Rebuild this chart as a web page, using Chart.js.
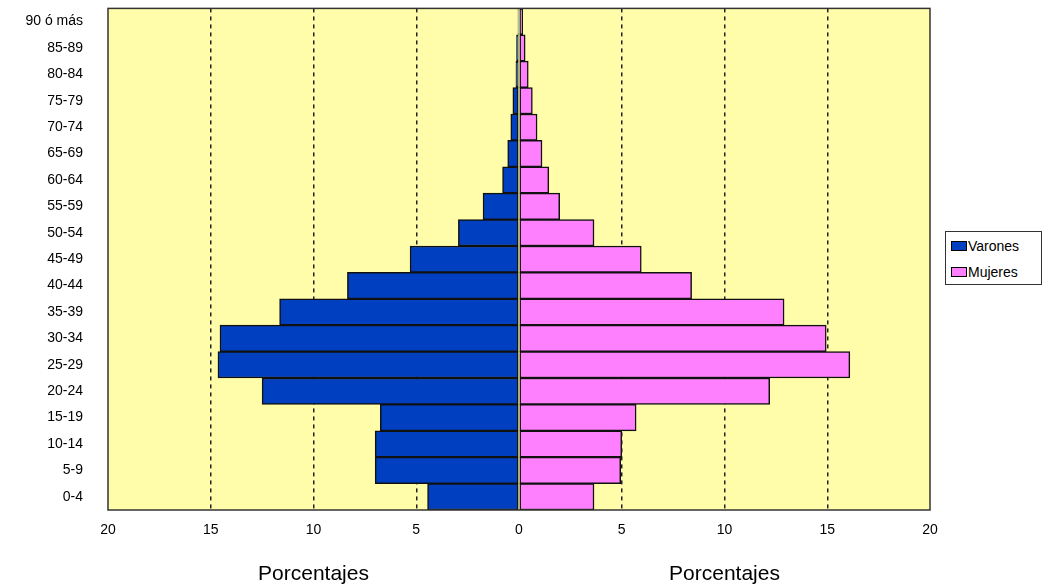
<!DOCTYPE html>
<html>
<head>
<meta charset="utf-8">
<script src="https://cdn.jsdelivr.net/npm/chart.js@4.4.0/dist/chart.umd.min.js"></script>
<style>
  html, body { margin: 0; padding: 0; background: #fff; }
  #wrap { position: relative; width: 1045px; height: 588px; }
  #legend {
    position: absolute; left: 945px; top: 231px; width: 97px; height: 54px;
    border: 1px solid #333; background: #fff; box-sizing: border-box;
    font-family: "Liberation Sans", Arial, sans-serif; font-size: 14px; color: #000;
  }
  #legend div { position: absolute; left: 5px; height: 16px; line-height: 16px; }
  #legend span.sw {
    display: inline-block; width: 14px; height: 8px; border: 1px solid #000;
    vertical-align: middle; margin-right: 1px; position: relative; top: -1px;
  }
</style>
</head>
<body>
<div id="wrap">
  <canvas id="pyramid" width="1045" height="588"></canvas>
  <div id="legend">
    <div style="top:6px"><span class="sw" style="background:#0040C0"></span>Varones</div>
    <div style="top:32px"><span class="sw" style="background:#FF80FF"></span>Mujeres</div>
  </div>
</div>
<script>
// age groups, bottom to top
const ageGroups = ['0-4', '5-9', '10-14', '15-19', '20-24', '25-29', '30-34', '35-39', '40-44',
  '45-49', '50-54', '55-59', '60-64', '65-69', '70-74', '75-79', '80-84', '85-89', '90 ó más'];
// percentages
const varones = [4.45, 7.0, 7.0, 6.75, 12.5, 14.65, 14.55, 11.65, 8.35,
  5.3, 2.95, 1.75, 0.8, 0.55, 0.4, 0.3, 0.15, 0.12, 0.05];
const mujeres = [3.65, 4.95, 5.0, 5.7, 12.2, 16.1, 14.95, 12.9, 8.4,
  5.95, 3.65, 1.98, 1.45, 1.12, 0.88, 0.65, 0.45, 0.3, 0.18];
const xTicks = [-20, -15, -10, -5, 0, 5, 10, 15, 20];

const font = "'Liberation Sans', Arial, sans-serif";

const plotBg = {
  id: 'plotBg',
  beforeDraw(chart) {
    const { ctx, chartArea: a } = chart;
    ctx.save();
    ctx.fillStyle = '#FFFDAA';
    ctx.fillRect(a.left, a.top, a.right - a.left, a.bottom - a.top);
    ctx.restore();
  },
  afterDraw(chart) {
    const { ctx, chartArea: a, scales } = chart;
    ctx.save();
    ctx.strokeStyle = '#333';
    ctx.lineWidth = 1.5;
    ctx.strokeRect(a.left, a.top, a.right - a.left, a.bottom - a.top);
    // axis titles under each half
    ctx.fillStyle = '#000';
    ctx.font = '21px ' + font;
    ctx.textAlign = 'center';
    ctx.textBaseline = 'middle';
    ctx.fillText('Porcentajes', scales.x.getPixelForValue(-10), 574);
    ctx.fillText('Porcentajes', scales.x.getPixelForValue(10), 574);
    ctx.restore();
  }
};

new Chart(document.getElementById('pyramid').getContext('2d'), {
  type: 'bar',
  data: {
    labels: ageGroups,
    datasets: [{
      label: 'Varones',
      data: varones.map(v => -v),
      backgroundColor: '#0040C0',
      borderColor: '#111',
      borderWidth: 1.5,
      borderSkipped: false,
      barPercentage: 1,
      categoryPercentage: 1
    }, {
      label: 'Mujeres',
      data: mujeres,
      backgroundColor: '#FF80FF',
      borderColor: '#111',
      borderWidth: 1.5,
      borderSkipped: false,
      barPercentage: 1,
      categoryPercentage: 1
    }]
  },
  options: {
    indexAxis: 'y',
    responsive: false,
    animation: false,
    layout: { padding: { top: 7, right: 115, left: 0, bottom: 0 } },
    scales: {
      x: {
        stacked: true,
        min: -20,
        max: 20,
        afterBuildTicks: scale => { scale.ticks = xTicks.map(v => ({ value: v })); },
        afterFit: scale => { scale.height = 78; },
        ticks: {
          callback: v => Math.abs(v),
          color: '#000',
          font: { family: font, size: 14 },
          padding: 12,
          maxRotation: 0
        },
        grid: {
          color: c => (Math.abs(c.tick.value) === 20 || c.tick.value === 0) ? 'rgba(0,0,0,0)' : '#222',
          lineWidth: 1.5,
          drawTicks: false
        },
        border: { display: false, dash: [4, 4] }
      },
      y: {
        stacked: true,
        reverse: true,
        afterFit: scale => { scale.width = 108; },
        ticks: {
          color: '#000',
          font: { family: font, size: 14 },
          padding: 0
        },
        grid: { display: false, drawTicks: true, tickLength: 25 },
        border: { display: false }
      }
    },
    plugins: {
      legend: { display: false },
      tooltip: { enabled: false }
    }
  },
  plugins: [plotBg]
});
</script>
</body>
</html>
